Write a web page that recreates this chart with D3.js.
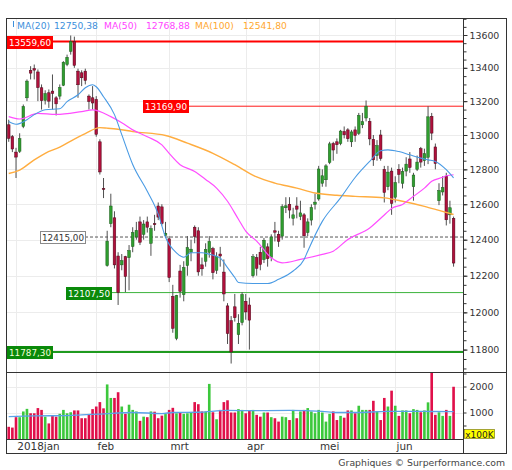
<!DOCTYPE html>
<html>
<head>
<meta charset="utf-8">
<script src="https://cdn.jsdelivr.net/npm/d3@7"></script>
<style>
  body { margin: 0; background: #fff; }
  svg { display: block; font-family: "DejaVu Sans", Verdana, sans-serif; }
</style>
</head>
<body>
<svg id="chart" width="512" height="470"></svg>
<script>
// trading days shown (Xetra, 28 dec 2017 - 25 jun 2018)
const dates = [
  "2017-12-28","2017-12-29",
  "2018-01-02","2018-01-03","2018-01-04","2018-01-05","2018-01-08","2018-01-09","2018-01-10","2018-01-11",
  "2018-01-12","2018-01-15","2018-01-16","2018-01-17","2018-01-18","2018-01-19","2018-01-22","2018-01-23",
  "2018-01-24","2018-01-25","2018-01-26","2018-01-29","2018-01-30","2018-01-31",
  "2018-02-01","2018-02-02","2018-02-05","2018-02-06","2018-02-07","2018-02-08","2018-02-09","2018-02-12",
  "2018-02-13","2018-02-14","2018-02-15","2018-02-16","2018-02-19","2018-02-20","2018-02-21","2018-02-22",
  "2018-02-23","2018-02-26","2018-02-27","2018-02-28",
  "2018-03-01","2018-03-02","2018-03-05","2018-03-06","2018-03-07","2018-03-08","2018-03-09","2018-03-12",
  "2018-03-13","2018-03-14","2018-03-15","2018-03-16","2018-03-19","2018-03-20","2018-03-21","2018-03-22",
  "2018-03-23","2018-03-26","2018-03-27","2018-03-28","2018-03-29",
  "2018-04-03","2018-04-04","2018-04-05","2018-04-06","2018-04-09","2018-04-10","2018-04-11","2018-04-12",
  "2018-04-13","2018-04-16","2018-04-17","2018-04-18","2018-04-19","2018-04-20","2018-04-23","2018-04-24",
  "2018-04-25","2018-04-26","2018-04-27","2018-04-30",
  "2018-05-02","2018-05-03","2018-05-04","2018-05-07","2018-05-08","2018-05-09","2018-05-10","2018-05-11",
  "2018-05-14","2018-05-15","2018-05-16","2018-05-17","2018-05-18","2018-05-22","2018-05-23","2018-05-24",
  "2018-05-25","2018-05-28","2018-05-29","2018-05-30","2018-05-31",
  "2018-06-01","2018-06-04","2018-06-05","2018-06-06","2018-06-07","2018-06-08","2018-06-11","2018-06-12",
  "2018-06-13","2018-06-14","2018-06-15","2018-06-18","2018-06-19","2018-06-20","2018-06-21","2018-06-22",
  "2018-06-25"
];

const opens = [
  13060,12990,
  12900,12905,13050,13220,13385,13395,13375,13280,13205,13250,13260,13220,13230,13295,13420,13500,13560,13380,13370,13380,13230,13220,
  13210,12960,12690,12256,12490,12523,12309,12260,12305,12300,12362,12415,12500,12430,12500,12380,12490,12590,12585,12425,
  12405,12087,11860,12226,12096,12256,12330,12470,12450,12260,12280,12330,12350,12230,12320,12220,12035,11955,12030,11880,11945,
  12060,12040,12200,12300,12330,12290,12360,12300,12450,12430,12420,12580,12600,12520,12590,12530,12540,12440,12510,12600,
  12630,12720,12740,12840,12950,12960,12950,13020,13030,12960,13030,13010,13060,13100,13080,12975,12880,13000,12800,12700,12790,
  12640,12800,12720,12790,12860,12700,12800,12920,12850,12870,13110,12930,12620,12670,12760,12540,12520
];
const highs = [
  13090,13000,
  12925,13010,13180,13330,13410,13420,13390,13300,13265,13270,13360,13230,13300,13440,13480,13597,13590,13395,13385,13395,13240,13290,
  13230,12975,12750,12450,12660,12560,12330,12320,12310,12370,12470,12500,12530,12510,12530,12480,12540,12610,12600,12500,
  12420,12150,12095,12260,12280,12420,12400,12480,12470,12300,12380,12420,12360,12330,12360,12290,12050,11980,12100,11990,12110,
  12100,12080,12320,12320,12360,12410,12380,12430,12500,12450,12600,12640,12640,12580,12640,12620,12550,12520,12600,12660,
  12820,12800,12830,12960,12960,12980,13030,13050,13040,13030,13050,13130,13130,13204,13100,13000,12970,13030,12820,12820,12810,
  12760,12830,12810,12870,12900,12780,12880,12930,12920,13170,13130,12950,12720,12760,12780,12620,12530
];
const lows = [
  12960,12900,
  12750,12895,13040,13200,13330,13330,13200,13150,13180,13160,13150,13115,13210,13290,13410,13480,13400,13220,13290,13300,13150,13150,
  12990,12770,12635,12250,12470,12240,12040,12230,12110,12120,12330,12400,12370,12400,12440,12310,12450,12510,12480,12410,
  12165,11890,11850,12080,12060,12200,12280,12380,12200,12200,12250,12300,12180,12210,12250,12060,11830,11726,11950,11830,11930,
  11960,11800,12190,12200,12230,12270,12250,12280,12390,12360,12400,12550,12520,12480,12520,12510,12355,12420,12480,12570,
  12620,12700,12700,12830,12850,12890,12940,12980,12960,12930,12960,13000,13040,13080,12940,12820,12850,12850,12610,12680,12540,
  12610,12720,12690,12760,12780,12620,12790,12810,12820,12830,12970,12800,12595,12650,12480,12490,12250
];
const closes = [
  12980,12918,
  12871,12978,13168,13320,13368,13386,13281,13203,13245,13200,13246,13184,13281,13434,13464,13560,13415,13298,13340,13324,13198,13189,
  13004,12785,12687,12392,12590,12260,12107.5,12283,12196,12339,12440,12452,12386,12488,12470,12462,12484,12527,12491,12436,
  12190,11914,12091,12114,12245,12356,12347,12418,12221,12238,12346,12390,12217,12307,12309,12100,11886,11787.3,11971,11941,12097,
  12002,11958,12305,12241,12262,12397,12294,12415,12442,12391,12586,12591,12567,12540,12572,12551,12422,12500,12581,12612,
  12802,12763,12820,12948,12912,12943,13023,13001,12978,13018,12997,13115,13078,13170,12977,12855,12938,12863,12667,12784,12605,
  12724,12771,12787,12830,12811,12767,12842,12842,12891,13107,13011,12834,12678,12695,12512,12580,12270
];
// volume, in units of 100K
const volumes = [
  450,420,
  820,820,1040,1140,970,970,1170,1100,840,580,870,840,950,1100,970,1010,1080,1080,780,780,910,1130,
  1230,1400,1160,2080,1560,1560,1780,1230,950,1300,1100,1040,680,840,820,1040,1030,780,880,940,
  1100,1180,970,1000,950,970,1000,1400,1320,1040,1040,2100,1010,740,1100,1400,1470,1000,1000,1130,1100,
  970,1060,1100,910,840,1000,1000,820,780,650,840,820,710,1100,780,1040,1100,1170,1040,970,
  1100,1000,650,950,1040,710,870,800,1080,1080,970,1260,1100,1100,1100,1450,1040,710,1560,1230,1840,
  1260,870,1080,1080,970,1130,1100,1010,1080,1390,2600,910,1010,870,1100,870,1990
];

// moving averages at sample days (index into dates)
const ma20At  = [0,2,5,7,10,14,16,19,21,23,24,26,29,31,34,38,41,43,46,48,50,53,55,58,60,62,63,67,71,74,78,81,82,86,91,95,99,102,104,107,110,113,115,117,120,122];
const ma20    = [13079,13063,13090,13120,13149,13155,13197,13238,13280,13298,13286,13226,13120,13002,12828,12674,12544,12414,12327,12302,12327,12327,12319,12297,12245,12190,12163,12157,12157,12180,12226,12290,12336,12503,12636,12753,12846,12908,12913,12903,12884,12865,12855,12846,12798,12750.38];
const ma50At  = [0,3,8,13,20,23,28,31,34,38,42,44,47,51,54,57,60,63,65,68,72,75,80,86,89,93,99,103,105,108,111,114,116,119,120,122];
const ma50    = [13108,13094,13127,13121,13138,13148,13108,13072,13030,12990,12942,12893,12827,12788,12742,12692,12617,12515,12448,12392,12299,12271,12290,12318,12336,12401,12466,12539,12576,12599,12645,12692,12731,12754,12763,12768.88];
const ma100At = [0,3,7,10,14,18,21,25,27,30,34,43,49,56,62,68,73,79,84,90,95,103,108,114,118,122];
const ma100   = [12776,12796,12855,12893,12929,12976,13008,13043,13040,13034,13020,12997,12952,12893,12827,12756,12721,12692,12664,12651,12645,12636,12617,12588,12565,12541.8];
const volMaAt = [0,7,16,20,25,34,42,45,52,60,67,77,86,90,95,104,114,122];
const volMa   = [840,870,880,910,940,1000,960,1000,1010,1080,1070,1080,1040,1000,1000,1040,1040,1030];

// price levels drawn on the chart
const levelValues = [13559.6, 13169.9, 12415, 12107.5, 11787.3];

const priceTicks = [11800,12000,12200,12400,12600,12800,13000,13200,13400,13600];
const priceMinorTicks = d3.range(11650, 13701, 50);
const volTicks = [500,1000,1500,2000,2500];
const volLabelTicks = [1000,2000];
const monthStarts = ["2018-01-02","2018-02-01","2018-03-01","2018-04-03","2018-05-02","2018-06-01"];
const monthLabels = ["2018jan","feb","mrt","apr","mei","jun"];

// ---------------------------------------------------------------
const svg = d3.select("#chart");
const plotLeft = 6.5, plotTop = 18.5, axisX = 463.5, plotRight = 506.5;
const priceBottom = 372.5, volBottom = 439.5, plotBottom = 453.5;

const nl = d3.formatLocale({decimal: ",", thousands: "", grouping: [3], currency: ["", ""]});
const fmt2 = nl.format(".2f");

const x = d3.scaleBand().domain(dates).range([6.9, 455.4]).paddingInner(0.28).paddingOuter(0.14);
const cx = d => x(d) + x.bandwidth() / 2;
const y = d3.scaleLog().domain([11800, 13600]).range([349.6, 35]);
const yv = d3.scaleLinear().domain([0, 2500]).range([438.5, 373.5]);

const candles = dates.map((d, i) => ({
  date: d, o: opens[i], h: highs[i], l: lows[i], c: closes[i], v: volumes[i], up: closes[i] >= opens[i]
}));

const defs = svg.append("defs");
defs.append("clipPath").attr("id", "clipPrice")
  .append("rect").attr("x", plotLeft).attr("y", plotTop).attr("width", axisX - plotLeft).attr("height", priceBottom - plotTop);
defs.append("clipPath").attr("id", "clipVol")
  .append("rect").attr("x", plotLeft).attr("y", priceBottom).attr("width", axisX - plotLeft).attr("height", volBottom - priceBottom);

// grid
const grid = svg.append("g").attr("stroke", "#ececec").attr("stroke-width", 1);
grid.selectAll(".hg").data(priceTicks).enter().append("line")
  .attr("x1", plotLeft).attr("x2", axisX)
  .attr("y1", d => Math.round(y(d)) + 0.5).attr("y2", d => Math.round(y(d)) + 0.5);
grid.selectAll(".vg").data(monthStarts).enter().append("line")
  .attr("x1", d => Math.round(cx(d)) + 0.5).attr("x2", d => Math.round(cx(d)) + 0.5)
  .attr("y1", plotTop).attr("y2", volBottom);
grid.selectAll(".vvg").data(volLabelTicks).enter().append("line")
  .attr("x1", plotLeft).attr("x2", axisX)
  .attr("y1", d => Math.round(yv(d)) + 0.5).attr("y2", d => Math.round(yv(d)) + 0.5);

// level lines
const levelStyle = [
  {stroke: "#ff0000", width: 2, from: plotLeft, labelX: 7, fill: "#ff0000", box: "#ff0000", text: "#ffffff"},
  {stroke: "#ff1a1a", width: 1, from: 143, labelX: 143, fill: "#ff0000", box: "#ff0000", text: "#ffffff"},
  {stroke: "#555555", width: 1, from: 85, labelX: 40, fill: "#ffffff", box: "#8a8a8a", text: "#333333", dash: "3,2"},
  {stroke: "#3cb43c", width: 1, from: 66, labelX: 66, fill: "#0a8a0a", box: "#0a8a0a", text: "#ffffff"},
  {stroke: "#1f9a1f", width: 2, from: plotLeft, labelX: 7, fill: "#0a8a0a", box: "#0a8a0a", text: "#f2ffd8"}
];
const priceG = svg.append("g").attr("clip-path", "url(#clipPrice)");
priceG.selectAll(".lvl").data(levelValues).enter().append("line")
  .attr("x1", (d, i) => levelStyle[i].from).attr("x2", axisX)
  .attr("y1", d => y(d)).attr("y2", d => y(d))
  .attr("stroke", (d, i) => levelStyle[i].stroke)
  .attr("stroke-width", (d, i) => levelStyle[i].width)
  .attr("stroke-dasharray", (d, i) => levelStyle[i].dash || null);

// candles
const cg = priceG.append("g");
cg.selectAll(".wick").data(candles).enter().append("line")
  .attr("x1", d => cx(d.date)).attr("x2", d => cx(d.date))
  .attr("y1", d => y(d.h)).attr("y2", d => y(d.l))
  .attr("stroke", "#505050").attr("stroke-width", 1);
cg.selectAll(".body").data(candles).enter().append("rect")
  .attr("x", d => x(d.date))
  .attr("width", x.bandwidth())
  .attr("y", d => y(Math.max(d.o, d.c)))
  .attr("height", d => Math.max(1, y(Math.min(d.o, d.c)) - y(Math.max(d.o, d.c))))
  .attr("fill", d => d.up ? "#2f9e2f" : "#b0103c")
  .attr("stroke", d => d.up ? "#1a5a1a" : "#4d0618")
  .attr("stroke-width", 0.5);

// moving averages
const maLine = d3.line()
  .x(d => cx(dates[d[0]]))
  .y(d => y(d[1]))
  .curve(d3.curveMonotoneX);
const maSeries = [
  {at: ma100At, vals: ma100, color: "#ffad40", w: 1.4},
  {at: ma50At, vals: ma50, color: "#ff4dff", w: 1.2},
  {at: ma20At, vals: ma20, color: "#4a9be4", w: 1.1}
];
priceG.selectAll(".ma").data(maSeries).enter().append("path")
  .attr("d", s => maLine(d3.zip(s.at, s.vals)))
  .attr("fill", "none")
  .attr("stroke", s => s.color)
  .attr("stroke-width", s => s.w);

// level labels
const lab = svg.append("g").attr("font-size", 8.8);
levelValues.forEach((v, i) => {
  const s = levelStyle[i];
  const yy = y(v);
  lab.append("rect")
    .attr("x", s.labelX + 0.5).attr("y", Math.round(yy) - 6 + 0.5)
    .attr("width", 45).attr("height", 12)
    .attr("fill", s.fill).attr("stroke", s.box).attr("stroke-width", 1);
  lab.append("text")
    .attr("x", s.labelX + 23).attr("y", Math.round(yy) + 3.6)
    .attr("text-anchor", "middle")
    .attr("fill", s.text)
    .text(fmt2(v));
});

// volume bars
const vg = svg.append("g").attr("clip-path", "url(#clipVol)");
vg.selectAll(".vol").data(candles).enter().append("rect")
  .attr("x", d => x(d.date))
  .attr("width", x.bandwidth())
  .attr("y", d => yv(d.v))
  .attr("height", d => volBottom - yv(d.v))
  .attr("fill", d => d.up ? "#3cc83c" : "#e0104a");
const volLine = d3.line()
  .x(d => cx(dates[d[0]]))
  .y(d => yv(d[1]))
  .curve(d3.curveMonotoneX);
vg.append("path")
  .attr("d", volLine(d3.zip(volMaAt, volMa)))
  .attr("fill", "none").attr("stroke", "#5aa2e8").attr("stroke-width", 1.3);

// legend
const legendItems = [
  {t: "MA(20)", x: 17, c: "#3d8fdc"},
  {t: fmt2(ma20[ma20.length - 1]), x: 54, c: "#3d8fdc"},
  {t: "MA(50)", x: 104, c: "#ff44ff"},
  {t: fmt2(ma50[ma50.length - 1]), x: 146, c: "#ff44ff"},
  {t: "MA(100)", x: 195, c: "#ffa830"},
  {t: fmt2(ma100[ma100.length - 1]), x: 243, c: "#ffa830"}
];
svg.append("line").attr("x1", 13.5).attr("x2", 13.5).attr("y1", 21).attr("y2", 27)
  .attr("stroke", "#3d8fdc").attr("stroke-width", 1);
svg.selectAll(".leg").data(legendItems).enter().append("text")
  .attr("x", d => d.x).attr("y", 28.5)
  .attr("font-size", 9.2)
  .attr("fill", d => d.c)
  .text(d => d.t);

// axes on the right
const axPrice = svg.append("g").attr("transform", `translate(${axisX},0)`)
  .call(d3.axisRight(y).tickValues(priceTicks).tickFormat(d3.format("d")).tickSize(4).tickPadding(2));
const axPriceMinor = svg.append("g").attr("transform", `translate(${axisX},0)`)
  .call(d3.axisRight(y).tickValues(priceMinorTicks.filter(v => y(v) > plotTop && y(v) < priceBottom)).tickFormat("").tickSize(3));
const axVol = svg.append("g").attr("transform", `translate(${axisX},0)`)
  .call(d3.axisRight(yv).tickValues(volTicks).tickFormat(d => volLabelTicks.includes(d) ? d : "").tickSize(3).tickPadding(3));
[axPrice, axPriceMinor, axVol].forEach(a => {
  a.select(".domain").remove();
  a.selectAll("line").attr("stroke", "#333");
  a.selectAll("text").attr("font-size", 9.4).attr("fill", "#333")
    .attr("font-family", "DejaVu Sans, Verdana, sans-serif");
});

// x100K box
svg.append("rect").attr("x", 464.5).attr("y", 429.5).attr("width", 30).attr("height", 9)
  .attr("fill", "#ffff00").attr("stroke", "#6a6a00").attr("stroke-width", 0.6);
svg.append("text").attr("x", 479.5).attr("y", 437.6).attr("text-anchor", "middle")
  .attr("font-size", 9).attr("fill", "#222").text("x100K");

// month labels
svg.selectAll(".mlab").data(monthStarts).enter().append("text")
  .attr("x", d => cx(d) + 1.3).attr("y", 450)
  .attr("font-size", 10.4).attr("fill", "#333")
  .text((d, i) => monthLabels[i]);

// frame
const frame = svg.append("g").attr("stroke", "#333").attr("stroke-width", 1).attr("fill", "none");
frame.append("rect").attr("x", plotLeft).attr("y", plotTop).attr("width", plotRight - plotLeft).attr("height", plotBottom - plotTop);
frame.append("line").attr("x1", axisX).attr("x2", axisX).attr("y1", plotTop).attr("y2", plotBottom);
frame.append("line").attr("x1", plotLeft).attr("x2", plotRight).attr("y1", priceBottom).attr("y2", priceBottom);
frame.append("line").attr("x1", plotLeft).attr("x2", axisX).attr("y1", volBottom).attr("y2", volBottom);

svg.append("text").attr("x", 505).attr("y", 465.5).attr("text-anchor", "end")
  .attr("font-size", 9.3).attr("fill", "#444")
  .text("Graphiques © Surperformance.com");
</script>
</body>
</html>
